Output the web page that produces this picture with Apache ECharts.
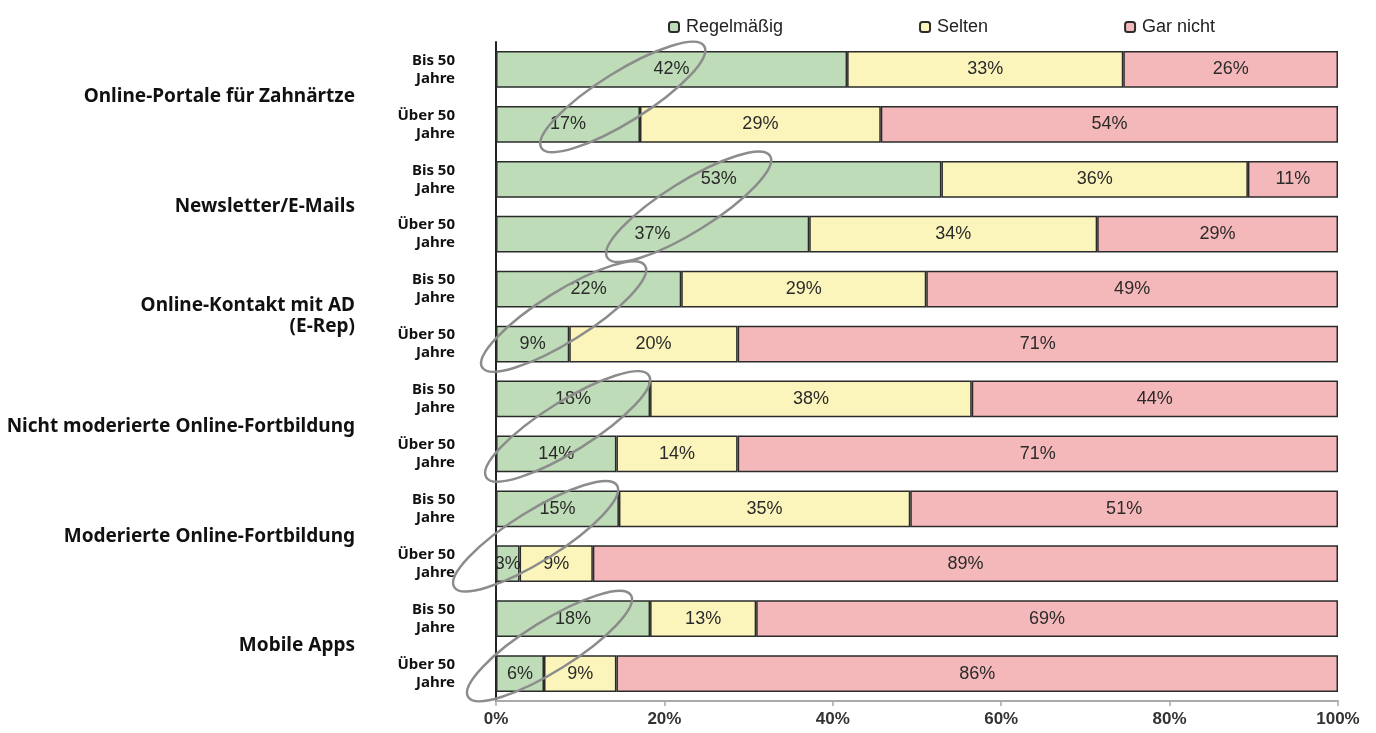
<!DOCTYPE html>
<html>
<head>
<meta charset="utf-8">
<script src="https://cdn.jsdelivr.net/npm/echarts@6/dist/echarts.min.js"></script>
<style>
    html, body { margin: 0; padding: 0; background: #fff; }
    #chart { width: 1376px; height: 733px; }
</style>
</head>
<body>
<div id="chart"></div>
<script>
    // Kategorien (je zwei Altersgruppen pro Kanal)
    var groups = ['Online-Portale für Zahnärtze', 'Newsletter/E-Mails', 'Online-Kontakt mit AD\n(E-Rep)',
        'Nicht moderierte Online-Fortbildung', 'Moderierte Online-Fortbildung', 'Mobile Apps'];
    var ages = ['Bis 50\nJahre', 'Über 50\nJahre'];
    var seriesNames = ['Regelmäßig', 'Selten', 'Gar nicht'];

    // Anteile in % (Reihenfolge: oben nach unten)
    var regelmaessig = [41.7, 17.1, 52.9, 37.2, 22.0, 8.7, 18.3, 14.3, 14.6, 2.8, 18.3, 5.7];
    var selten       = [32.8, 28.6, 36.4, 34.2, 29.1, 20.0, 38.2, 14.4, 34.6, 8.7, 12.6, 8.6];
    var garNicht     = [25.5, 54.3, 10.7, 28.6, 48.9, 71.3, 43.5, 71.3, 50.8, 88.5, 69.1, 85.7];

    var xTicks = [0, 20, 40, 60, 80, 100];
    var colors = ['#bedcb7', '#fbf4bb', '#f5b8ba'];

    var rows = [];
    groups.forEach(function (g) {
        ages.forEach(function (a) { rows.push(a); });
    });

    var chart = echarts.init(document.getElementById('chart'));

    var values = [regelmaessig, selten, garNicht];
    var series = seriesNames.map(function (name, i) {
        return {
            name: name,
            type: 'bar',
            stack: 'total',
            barWidth: '67%',
            data: values[i],
            itemStyle: {color: colors[i], borderColor: '#2b2b2b', borderWidth: 1.5},
            label: {
                show: true,
                position: 'inside',
                color: '#2a2a2a',
                fontFamily: 'Liberation Sans',
                fontSize: 18,
                formatter: function (p) { return Math.round(p.value) + '%'; }
            }
        };
    });

    chart.setOption({
        animation: false,
        color: colors,
        legend: {
            data: seriesNames,
            left: 663,
            top: 13,
            itemWidth: 10,
            itemHeight: 10,
            itemGap: 136,
            textStyle: {fontFamily: 'Liberation Sans', fontSize: 18, color: '#222', padding: [0, 0, 0, 2]}
        },
        grid: {left: 496, right: 38, top: 42, bottom: 32},
        xAxis: {
            type: 'value',
            min: xTicks[0],
            max: xTicks[xTicks.length - 1],
            interval: 20,
            axisLine: {show: true, lineStyle: {color: '#aaa', width: 2}},
            axisTick: {show: true, length: 5, lineStyle: {color: '#aaa', width: 1.5}},
            splitLine: {show: false},
            axisLabel: {
                formatter: '{value}%',
                margin: 10,
                fontFamily: 'Liberation Sans',
                fontWeight: 'bold',
                fontSize: 17,
                color: '#333'
            }
        },
        yAxis: [
            {
                type: 'category',
                inverse: true,
                data: rows,
                axisLine: {show: true, lineStyle: {color: '#222', width: 2}},
                axisTick: {show: false},
                axisLabel: {
                    margin: 41,
                    fontFamily: 'Noto Sans',
                    fontWeight: 'bold',
                    fontSize: 15,
                    lineHeight: 18,
                    color: '#111'
                }
            },
            {
                type: 'category',
                position: 'left',
                inverse: true,
                data: groups,
                axisLine: {show: false},
                axisTick: {show: false},
                axisLabel: {
                    margin: 141,
                    fontFamily: 'Noto Sans',
                    fontWeight: 'bold',
                    fontSize: 19,
                    lineHeight: 21,
                    padding: [0, 0, 12, 0],
                    color: '#111'
                }
            }
        ],
        series: series
    });

    // graue Ellipsen, jeweils um die "Regelmäßig"-Werte eines Kanals
    var ellipses = [];
    for (var g = 0; g < groups.length; g++) {
        var a = chart.convertToPixel({gridIndex: 0}, [regelmaessig[2 * g] / 2, 2 * g]);
        var b = chart.convertToPixel({gridIndex: 0}, [regelmaessig[2 * g + 1] / 2, 2 * g + 1]);
        ellipses.push({
            type: 'ellipse',
            x: (a[0] + b[0]) / 2 + 3,
            y: (a[1] + b[1]) / 2,
            rotation: 32 * Math.PI / 180,
            shape: {cx: 0, cy: 0, rx: 96, ry: 25},
            style: {fill: null, stroke: '#8c8c8c', lineWidth: 2.5},
            z: 100
        });
    }
    chart.setOption({graphic: ellipses});
</script>
</body>
</html>
